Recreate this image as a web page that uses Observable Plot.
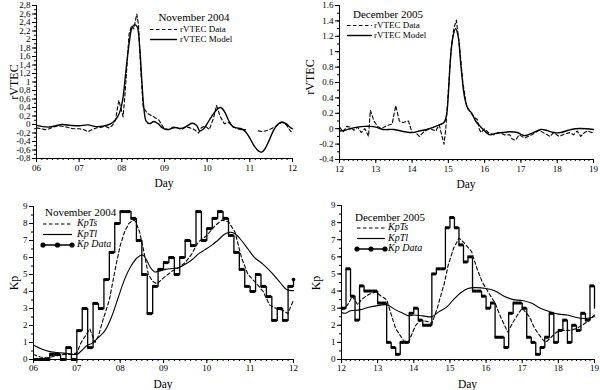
<!DOCTYPE html>
<html><head><meta charset="utf-8">
<script src="https://cdn.jsdelivr.net/npm/d3@7"></script>
<script src="https://cdn.jsdelivr.net/npm/@observablehq/plot@0.6"></script>
<style>
body{margin:0;background:#fff;}
#wrap{position:relative;width:600px;height:390px;background:#fff;}
.panel{position:absolute;}
</style></head><body><div id="wrap"></div>
<script>
// ---------- DATA ----------
// Top-left: rVTEC November 2004
const tecNovDataDay = [6.0,6.1,6.2,6.3,6.4,6.5,6.6,6.7,6.85,7.0,7.1,7.2,7.3,7.4,7.5,7.6,7.7,7.78,7.85,7.93,8.03,8.07,8.17,8.23,8.28,8.35,8.39,8.44,8.5,8.6,8.75,8.87,8.99,9.1,9.2,9.3,9.4,9.5,9.6,9.7,9.8,9.86,9.95,10.05,10.15,10.22,10.3,10.4,10.5,10.6,10.7,10.8,10.9,11.0,11.2,11.3,11.4,11.5,11.6,11.75,11.85,11.95,12.0];
const tecNovData = [-0.08,-0.1,-0.12,-0.1,-0.06,-0.03,-0.04,-0.06,-0.1,-0.1,-0.12,-0.17,-0.12,-0.08,-0.07,-0.04,-0.08,-0.02,0.1,0.57,0.18,0.65,2.13,2.33,2.25,2.6,2.35,1.35,0.41,0.26,0.18,0.1,-0.09,-0.12,-0.06,-0.08,-0.12,-0.05,-0.08,-0.12,-0.2,-0.08,-0.03,-0.12,0.15,0.45,0.2,0.02,0.05,-0.05,-0.1,-0.12,-0.12,NaN,-0.15,-0.17,-0.14,-0.1,-0.05,0.05,0.0,-0.15,-0.2];
const tecNovModelDay = [6.0,6.15,6.3,6.45,6.6,6.8,7.0,7.2,7.4,7.55,7.7,7.8,7.9,7.97,8.03,8.1,8.17,8.23,8.3,8.36,8.42,8.47,8.52,8.57,8.65,8.75,8.85,8.95,9.05,9.15,9.25,9.35,9.45,9.55,9.65,9.75,9.83,9.92,10.0,10.1,10.2,10.3,10.35,10.42,10.5,10.6,10.7,10.8,10.9,11.0,11.1,11.2,11.28,11.35,11.45,11.55,11.65,11.75,11.85,11.95,12.0];
const tecNovModel = [-0.02,-0.05,-0.06,-0.03,0.0,-0.02,-0.03,-0.01,-0.05,-0.04,0.0,0.06,0.18,0.35,0.65,1.3,1.9,2.25,2.35,2.3,1.8,1.0,0.35,0.08,0.02,0.07,0.02,-0.08,-0.12,-0.1,-0.07,-0.09,-0.08,-0.02,0.03,-0.02,-0.15,-0.1,0.02,0.18,0.32,0.4,0.38,0.28,0.1,-0.05,-0.08,-0.1,-0.17,-0.32,-0.5,-0.62,-0.65,-0.58,-0.38,-0.15,0.0,0.06,0.02,-0.07,-0.1];

// Top-right: rVTEC December 2005
const tecDecDataDay = [12.0,12.1,12.2,12.3,12.4,12.5,12.6,12.7,12.8,12.85,12.95,13.05,13.15,13.3,13.45,13.55,13.65,13.75,13.9,14.0,14.1,14.2,14.35,14.5,14.65,14.75,14.8,14.88,14.93,15.0,15.07,15.15,15.22,15.3,15.4,15.5,15.6,15.7,15.8,15.85,15.9,16.0,16.1,16.25,16.4,16.55,16.7,16.75,16.85,16.95,17.1,17.3,17.5,17.65,17.8,17.9,18.05,18.2,18.35,18.45,18.55,18.65,18.75,18.85,19.0];
const tecDecData = [0.02,-0.04,0.03,0.02,-0.02,0.02,-0.05,0.0,-0.1,0.24,0.1,0.03,0.0,0.04,0.06,0.3,0.1,0.08,0.1,-0.05,-0.05,-0.1,-0.03,0.0,-0.03,0.05,-0.05,-0.2,0.0,0.5,1.0,1.3,1.41,1.1,0.6,0.3,0.22,0.15,0.12,0.0,-0.05,0.0,-0.05,-0.08,-0.05,-0.08,-0.08,-0.13,-0.15,-0.08,-0.12,-0.08,-0.02,-0.06,-0.1,-0.05,-0.1,-0.07,-0.05,-0.08,-0.03,-0.1,-0.05,-0.03,-0.06];
const tecDecModelDay = [12.0,12.15,12.3,12.5,12.7,12.85,13.0,13.2,13.5,13.8,14.0,14.2,14.4,14.6,14.75,14.88,14.95,15.0,15.05,15.12,15.2,15.27,15.35,15.45,15.55,15.65,15.75,15.9,16.0,16.15,16.3,16.5,16.7,16.9,17.1,17.3,17.55,17.7,17.9,18.1,18.3,18.5,18.8,19.0];
const tecDecModel = [-0.03,-0.02,0.0,0.02,0.03,0.03,0.02,-0.01,-0.01,-0.04,-0.05,-0.03,-0.01,0.02,0.05,0.08,0.18,0.45,0.85,1.18,1.3,1.2,0.8,0.4,0.25,0.2,0.1,0.02,-0.03,-0.08,-0.06,-0.05,-0.04,-0.05,-0.09,-0.06,-0.01,-0.02,-0.05,-0.05,-0.02,0.0,0.0,-0.01];

// Bottom-left: Kp November 2004 (3-hourly, starting day 6)
const kpNov = [0,0,0,0.3,0.3,0,0.7,0,
  1.7,3.0,0.7,3.3,3.0,4.7,6.3,8.0,
  8.7,8.7,8.3,7.0,5.0,2.7,4.3,5.3,
  5.7,6.0,5.0,6.0,7.0,6.7,8.7,7.0,
  7.7,8.3,8.7,8.3,7.3,6.3,5.3,4.3,
  4.0,5.0,4.3,3.7,2.3,3.0,2.3,4.3];
const kpNovEnd = 4.7;
const kpTsNovDay = [6.0,6.15,6.3,6.5,6.7,6.9,7.0,7.1,7.2,7.3,7.42,7.5,7.6,7.75,7.9,8.0,8.1,8.2,8.3,8.35,8.45,8.55,8.65,8.75,8.85,9.0,9.2,9.35,9.5,9.65,9.8,10.0,10.2,10.35,10.5,10.65,10.8,10.95,11.1,11.3,11.45,11.6,11.75,11.87,12.0];
const kpTsNov = [0.3,0.15,0.1,0.2,0.3,0.3,0.4,1.0,1.4,1.8,1.0,1.4,2.3,3.5,5.5,6.7,7.5,8.0,8.2,8.15,7.5,6.3,5.0,4.6,4.45,4.8,5.2,5.4,5.7,6.2,6.9,7.3,7.9,8.2,8.1,7.5,6.0,5.0,4.6,4.0,3.2,3.0,2.9,2.7,3.5];
const kpTlNovDay = [6.0,6.2,6.4,6.6,6.8,7.0,7.1,7.25,7.35,7.5,7.65,7.8,7.95,8.1,8.25,8.4,8.52,8.6,8.7,8.8,8.9,9.05,9.2,9.35,9.5,9.65,9.8,9.95,10.1,10.25,10.4,10.52,10.65,10.8,10.95,11.1,11.3,11.5,11.7,11.85,12.0];
const kpTlNov = [0.85,0.6,0.45,0.4,0.35,0.3,0.5,0.85,0.95,1.3,1.7,2.5,3.6,4.7,5.5,6.0,6.15,5.9,5.4,5.15,5.2,5.3,5.35,5.4,5.6,5.85,6.2,6.45,6.7,7.0,7.35,7.48,7.4,7.0,6.5,6.0,5.6,5.1,4.5,4.1,4.05];

// Bottom-right: Kp December 2005 (3-hourly, starting day 12)
const kpDec = [3.0,5.3,3.7,2.3,4.3,4.0,4.0,4.0,
  3.3,3.3,1.0,0.7,0.3,1.0,1.0,2.7,
  3.0,2.3,2.0,2.0,5.0,5.3,5.3,7.7,
  8.3,7.7,6.7,5.7,6.0,4.0,4.0,3.7,
  3.0,3.3,1.3,1.3,0.7,2.7,3.3,3.3,
  3.0,1.3,1.0,0.3,0.7,1.3,2.7,1.0,
  1.7,2.3,1.0,2.0,1.7,2.7,2.3,4.3];
const kpDecEnd = 3.0;
const kpTsDecDay = [12.0,12.1,12.2,12.3,12.45,12.55,12.75,12.95,13.1,13.25,13.35,13.5,13.72,13.85,13.95,14.05,14.2,14.4,14.5,14.65,14.85,14.95,15.1,15.25,15.4,15.6,15.75,15.9,16.1,16.25,16.4,16.6,16.75,16.9,17.0,17.2,17.35,17.55,17.65,17.8,17.95,18.1,18.3,18.5,18.65,18.8,18.95,19.0];
const kpTsDec = [2.9,3.0,3.3,3.7,3.2,3.5,3.8,3.95,3.7,3.5,2.8,1.8,1.1,1.0,1.5,2.0,2.3,2.2,2.1,3.0,4.5,5.5,6.5,7.1,6.8,6.3,5.3,4.5,3.8,3.3,2.5,1.6,2.2,2.7,3.0,2.5,1.8,1.2,1.0,1.3,1.6,1.7,1.7,1.8,2.0,2.2,2.5,2.6];
const kpTlDecDay = [12.0,12.1,12.25,12.5,12.75,13.0,13.25,13.5,13.7,13.85,14.0,14.25,14.5,14.7,14.9,15.1,15.3,15.5,15.7,16.0,16.25,16.5,16.75,17.0,17.25,17.5,17.75,18.0,18.25,18.5,18.75,19.0];
const kpTlDec = [2.75,2.7,2.85,2.9,3.05,3.15,3.2,2.9,2.7,2.55,2.6,2.55,2.5,2.8,3.05,3.5,3.9,4.15,4.2,4.15,4.0,3.7,3.5,3.45,3.3,3.0,2.8,2.65,2.6,2.45,2.4,2.5];

// Text
const titles = ["November 2004", "December 2005"];
const tecLegend = ["rVTEC Data", "rVTEC Model"];
const kpLegend = ["KpTs", "KpTl", "Kp Data"];

// ---------- HELPERS ----------
const FONT = "'Liberation Serif', 'Times New Roman', serif";
const zip = (xs, ys) => xs.map((x, i) => ({x, y: ys[i]}));
const fmtComma = d => String(Math.round(d * 10) / 10).replace(".", ",");
const fmtDot = d => String(Math.round(d * 10) / 10);
const fmtDay = d => String(d).padStart(2, "0");
const steps = (vals, start, end) => {
  const rows = vals.map((v, i) => ({x: start + i / 8, y: v}));
  rows.push({x: start + vals.length / 8, y: end});
  return rows;
};

function panel(cfg) {
  const [x0, x1] = cfg.xDomain, [y0, y1] = cfg.yDomain;
  const xMinor = d3.range(0, (x1 - x0) * 8 + 1).map(i => x0 + i / 8);
  const xMajor = d3.range(x0, x1 + 1);
  const chart = Plot.plot({
    width: 300, height: 195,
    marginLeft: cfg.m[0], marginRight: cfg.m[1], marginTop: cfg.m[2], marginBottom: cfg.m[3],
    x: {domain: cfg.xDomain},
    y: {domain: cfg.yDomain},
    style: {fontFamily: FONT, fontSize: "9px", background: "white", color: "black", overflow: "visible"},
    marks: [
      Plot.axisY(cfg.yMinor, {tickSize: 2, tickFormat: () => "", label: null}),
      Plot.axisY(cfg.yMajor, {tickSize: 4, tickPadding: 2, tickFormat: cfg.yFmt, label: null, fontSize: 9}),
      Plot.axisX(xMinor, {tickSize: 2, tickFormat: () => "", label: null}),
      Plot.axisX(xMajor, {tickSize: 4, tickPadding: cfg.xPad, tickFormat: fmtDay, label: null, fontSize: 9}),
      Plot.ruleX([x0], {strokeWidth: 1}),
      Plot.ruleY([y0], {strokeWidth: 1}),
      ...cfg.marks
    ]
  });
  chart.classList.add("panel");
  chart.style.left = cfg.left + "px";
  chart.style.top = cfg.top + "px";
  const svg = d3.select(chart);
  const W = 300;
  const fx = (cfg.m[0] + W - cfg.m[1]) / 2;
  // axis titles
  svg.append("text").attr("x", fx).attr("y", cfg.dayY).attr("text-anchor", "middle")
    .attr("font-family", FONT).attr("font-size", 11.5).attr("fill", "black").text("Day");
  svg.append("text").attr("transform", `translate(${cfg.yl[0]},${cfg.yl[1]}) rotate(-90)`)
    .attr("text-anchor", "middle").attr("dominant-baseline", "middle")
    .attr("font-family", FONT).attr("font-size", 12).attr("fill", "black").text(cfg.yLabel);
  // legend
  const L = cfg.legend;
  svg.append("text").attr("x", L.tx).attr("y", L.ty).attr("text-anchor", L.tAnchor)
    .attr("dominant-baseline", "middle").attr("font-family", FONT).attr("font-size", 11)
    .attr("fill", "black").text(L.title);
  L.rows.forEach(r => {
    svg.append("line").attr("x1", L.lx1).attr("x2", L.lx2).attr("y1", r.y).attr("y2", r.y)
      .attr("stroke", "black").attr("stroke-width", r.sw || 1.2)
      .attr("stroke-dasharray", r.dash || null);
    if (r.dots) {
      [L.lx1, (L.lx1 + L.lx2) / 2, L.lx2].forEach(cx =>
        svg.append("circle").attr("cx", cx).attr("cy", r.y).attr("r", 2.6).attr("fill", "black"));
    }
    svg.append("text").attr("x", L.labX).attr("y", r.y).attr("text-anchor", "start")
      .attr("dominant-baseline", "middle")
      .attr("font-family", FONT).attr("font-size", L.fs).attr("fill", "black")
      .attr("font-style", r.italic ? "italic" : null).text(r.label);
  });
  document.getElementById("wrap").appendChild(chart);
}

const DASH = "3.5,2.5";

// ---------- TOP-LEFT ----------
panel({
  left: 0, top: 0, m: [36, 8, 5, 37], xPad: 2,
  xDomain: [6, 12], yDomain: [-0.8, 2.8],
  yMajor: d3.range(-8, 29, 2).map(v => v / 10),
  yMinor: d3.range(-8, 29, 1).map(v => v / 10),
  yFmt: fmtComma, yLabel: "rVTEC", yl: [15, 82], dayY: 187,
  marks: [
    Plot.line(zip(tecNovDataDay, tecNovData), {x: "x", y: "y", stroke: "black", strokeWidth: 1.1, strokeDasharray: DASH}),
    Plot.line(zip(tecNovModelDay, tecNovModel), {x: "x", y: "y", stroke: "black", strokeWidth: 1.4, curve: "catmull-rom"})
  ],
  legend: {title: titles[0], tx: 194, ty: 18, tAnchor: "middle", lx1: 150, lx2: 177, labX: 180, fs: 9,
    rows: [{y: 29.5, dash: DASH, label: tecLegend[0]}, {y: 39.5, label: tecLegend[1], sw: 1.4}]}
});

// ---------- TOP-RIGHT ----------
panel({
  left: 300, top: 0, m: [39, 7, 5, 36], xPad: 2,
  xDomain: [12, 19], yDomain: [-0.4, 1.6],
  yMajor: d3.range(-4, 17, 2).map(v => v / 10),
  yMinor: d3.range(-4, 17, 1).map(v => v / 10),
  yFmt: fmtDot, yLabel: "rVTEC", yl: [11, 77], dayY: 188,
  marks: [
    Plot.line(zip(tecDecDataDay, tecDecData), {x: "x", y: "y", stroke: "black", strokeWidth: 1.1, strokeDasharray: DASH}),
    Plot.line(zip(tecDecModelDay, tecDecModel), {x: "x", y: "y", stroke: "black", strokeWidth: 1.4, curve: "catmull-rom"})
  ],
  legend: {title: titles[1], tx: 88, ty: 15, tAnchor: "middle", lx1: 47, lx2: 72, labX: 74, fs: 9,
    rows: [{y: 25.5, dash: DASH, label: tecLegend[0]}, {y: 35.5, label: tecLegend[1], sw: 1.4}]}
});

// ---------- BOTTOM-LEFT ----------
const novSteps = steps(kpNov, 6, kpNovEnd);
panel({
  left: 0, top: 195, m: [33, 7, 11, 31], xPad: 1,
  xDomain: [6, 12], yDomain: [0, 9],
  yMajor: d3.range(0, 10), yMinor: d3.range(0, 9.01, 0.5),
  yFmt: d => String(d), yLabel: "Kp", yl: [15, 88], dayY: 193,
  marks: [
    Plot.line(zip(kpTsNovDay, kpTsNov), {x: "x", y: "y", stroke: "black", strokeWidth: 1.1, strokeDasharray: DASH}),
    Plot.line(zip(kpTlNovDay, kpTlNov), {x: "x", y: "y", stroke: "black", strokeWidth: 1.1, curve: "catmull-rom"}),
    Plot.line(novSteps, {x: "x", y: "y", curve: "step-after", stroke: "black", strokeWidth: 1.3}),
    Plot.ruleY(novSteps.slice(0, -1), {x1: "x", x2: d => d.x + 0.125, y: "y", stroke: "black", strokeWidth: 3}),
    Plot.dot([novSteps[novSteps.length - 1]], {x: "x", y: "y", r: 1.8, fill: "black"})
  ],
  legend: {title: titles[0], tx: 45, ty: 18, tAnchor: "start", lx1: 43, lx2: 72, labX: 77, fs: 10,
    rows: [{y: 29, dash: DASH, label: kpLegend[0], italic: true},
           {y: 39.5, label: kpLegend[1], italic: true},
           {y: 50, label: kpLegend[2], italic: true, dots: true, sw: 1.5}]}
});

// ---------- BOTTOM-RIGHT ----------
const decSteps = steps(kpDec, 12, kpDecEnd);
panel({
  left: 300, top: 195, m: [41, 6, 10, 31], xPad: 1,
  xDomain: [12, 19], yDomain: [0, 9],
  yMajor: d3.range(0, 10), yMinor: d3.range(0, 9.01, 0.5),
  yFmt: d => String(d), yLabel: "Kp", yl: [17, 88], dayY: 193,
  marks: [
    Plot.line(zip(kpTsDecDay, kpTsDec), {x: "x", y: "y", stroke: "black", strokeWidth: 1.1, strokeDasharray: DASH}),
    Plot.line(zip(kpTlDecDay, kpTlDec), {x: "x", y: "y", stroke: "black", strokeWidth: 1.1, curve: "catmull-rom"}),
    Plot.line(decSteps, {x: "x", y: "y", curve: "step-after", stroke: "black", strokeWidth: 1.3}),
    Plot.ruleY(decSteps.slice(0, -1), {x1: "x", x2: d => d.x + 0.125, y: "y", stroke: "black", strokeWidth: 3})
  ],
  legend: {title: titles[1], tx: 55, ty: 23, tAnchor: "start", lx1: 57, lx2: 85, labX: 88, fs: 10,
    rows: [{y: 33, dash: DASH, label: kpLegend[0], italic: true},
           {y: 43.5, label: kpLegend[1], italic: true},
           {y: 54, label: kpLegend[2], italic: true, dots: true, sw: 1.5}]}
});
</script></body></html>
